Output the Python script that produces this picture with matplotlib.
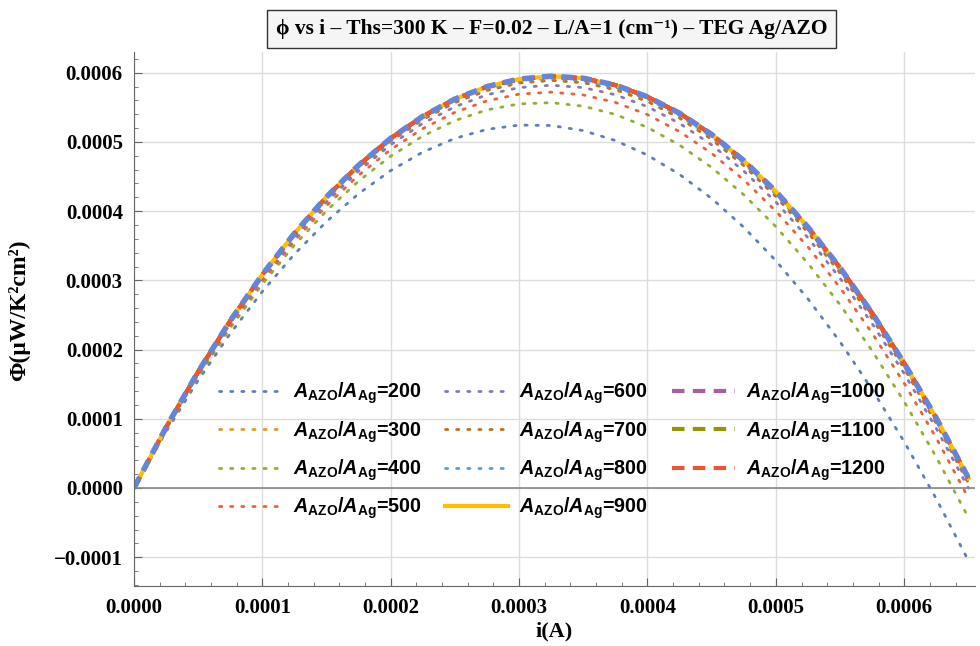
import numpy as np
import matplotlib
matplotlib.use('Agg')
import matplotlib.pyplot as plt

# corriente (A) y potencia phi (en unidades de 1e-4 uW/K^2 cm^2)
i_A = np.arange(0, 27) * 0.000025

phi_200 = [0, 0.812, 1.556, 2.232, 2.839, 3.379, 3.850, 4.253, 4.587, 4.854, 5.052, 5.182, 5.244,
           5.238, 5.164, 5.021, 4.810, 4.531, 4.184, 3.768, 3.285, 2.733, 2.113, 1.424, 0.668, -0.157, -1.050]
phi_400 = [0, 0.839, 1.609, 2.311, 2.945, 3.510, 4.007, 4.435, 4.795, 5.086, 5.309, 5.464, 5.550,
           5.568, 5.517, 5.398, 5.211, 4.955, 4.631, 4.238, 3.777, 3.247, 2.649, 1.983, 1.248, 0.445, -0.427]
phi_500 = [0, 0.851, 1.634, 2.348, 2.994, 3.571, 4.079, 4.519, 4.891, 5.193, 5.428, 5.594, 5.691,
           5.720, 5.680, 5.572, 5.395, 5.150, 4.836, 4.453, 4.002, 3.483, 2.895, 2.238, 1.513, 0.720, -0.143]
phi_600 = [0, 0.861, 1.653, 2.376, 3.031, 3.616, 4.133, 4.580, 4.959, 5.269, 5.510, 5.682, 5.786,
           5.820, 5.786, 5.682, 5.510, 5.269, 4.959, 4.580, 4.133, 3.616, 3.031, 2.376, 1.653, 0.861, 0.0]
phi_700 = [0, 0.869, 1.668, 2.398, 3.059, 3.651, 4.173, 4.626, 5.010, 5.325, 5.570, 5.746, 5.853,
           5.890, 5.858, 5.757, 5.587, 5.347, 5.038, 4.660, 4.212, 3.695, 3.109, 2.454, 1.729, 0.935, 0.072]
phi_300 = phi_700
phi_800 = [0, 0.872, 1.674, 2.407, 3.071, 3.665, 4.190, 4.645, 5.031, 5.348, 5.595, 5.773, 5.881,
           5.920, 5.889, 5.789, 5.620, 5.381, 5.073, 4.695, 4.248, 3.732, 3.146, 2.491, 1.766, 0.972, 0.108]
phi_top = [0, 0.875, 1.680, 2.416, 3.083, 3.679, 4.207, 4.664, 5.053, 5.371, 5.620, 5.800, 5.909,
           5.950, 5.921, 5.822, 5.653, 5.416, 5.108, 4.731, 4.285, 3.769, 3.183, 2.528, 1.803, 1.009, 0.145]

ratios = [200, 300, 400, 500, 600, 700, 800, 900, 1000, 1100, 1200]
series = [phi_200, phi_300, phi_400, phi_500, phi_600, phi_700, phi_800, phi_top,
          phi_top, phi_top, phi_top]
colores = ['#5E81B5', '#E19C24', '#8FB032', '#EB6235', '#8778B3', '#C56E1A',
           '#5D9EC7', '#FFBF00', '#A5609D', '#929600', '#E95536']

plt.rcParams['mathtext.fontset'] = 'custom'
plt.rcParams['mathtext.rm'] = 'Liberation Sans:bold'
plt.rcParams['mathtext.bf'] = 'Liberation Sans:bold'
plt.rcParams['mathtext.it'] = 'Liberation Sans:bold:italic'
serif = ['Liberation Serif', 'DejaVu Serif']

fig = plt.figure(figsize=(9.8, 6.46), dpi=100)
ax = fig.add_axes([0.1367, 0.0929, 0.858, 0.8266])

for r, y, c in zip(ratios, series, colores):
    y = np.array(y) * 1e-4
    lab = r'$A_{\mathbf{AZO}}/A_{\mathbf{Ag}}$=%d' % r
    if r < 900:
        ax.plot(i_A, y, color=c, lw=2, ls=(0, (0.8, 3.2)), dash_capstyle='round', label=lab)
    elif r == 900:
        ax.plot(i_A, y, color=c, lw=3, label=lab)
    else:
        ax.plot(i_A, y, color=c, lw=3, ls=(0, (3, 2)), label=lab)
ax.plot(i_A, np.array(phi_top) * 1e-4, color='#6685D9', lw=4, ls=(0, (2, 1.5)))

ax.axhline(0, color='#888888', lw=1.2, zorder=1)
ax.set_xlim(0, 0.000655)
ax.set_ylim(-0.0001416, 0.00063)
ax.set_xticks(np.arange(0, 0.00065, 0.0001))
ax.set_yticks(np.arange(-0.0001, 0.00065, 0.0001))
ax.set_xticks(np.arange(0, 0.00065, 0.00002), minor=True)
ax.set_yticks(np.arange(-0.00014, 0.00063, 0.00002), minor=True)
ax.set_xticklabels(['%.4f' % v for v in np.arange(0, 0.00065, 0.0001)])
ax.set_yticklabels([('%.4f' % v).replace('-', '\u2212') for v in np.arange(-0.0001, 0.00065, 0.0001)])
for lbl in ax.get_xticklabels() + ax.get_yticklabels():
    lbl.set_family(serif)
    lbl.set_weight('bold')
    lbl.set_fontsize(15)
ax.tick_params(which='major', direction='in', length=6, color='#666666')
ax.tick_params(axis='x', which='major', pad=9)
ax.tick_params(axis='y', which='major', pad=8)
ax.tick_params(which='minor', direction='in', length=3, color='#666666')
ax.grid(True, color='#dcdcdc', lw=1)
ax.set_axisbelow(True)
for s in ['top', 'right']:
    ax.spines[s].set_visible(False)
for s in ['left', 'bottom']:
    ax.spines[s].set_color('#666666')

ax.set_xlabel('i(A)', family=serif, weight='bold', fontsize=16)
ax.xaxis.set_label_coords(0.5, -0.066)
ax.set_ylabel('\u03a6(\u03bcW/K\u00b2cm\u00b2)', family=serif, weight='bold', fontsize=17)
ax.yaxis.set_label_coords(-0.124, 0.517)

ax.legend(ncol=3, loc='upper left', bbox_to_anchor=(219 / 980, 1 - 381 / 646),
          bbox_transform=fig.transFigure, frameon=False, handlelength=3.2, handletextpad=0.55,
          prop={'family': 'Liberation Sans', 'weight': 'bold', 'size': 14.2},
          columnspacing=1.2, labelspacing=0.64, borderpad=0, borderaxespad=0)

fig.text(0.563, 0.955, '\u03d5 vs i \u2013 Ths=300 K \u2013 F=0.02 \u2013 L/A=1 (cm\u207b\u00b9) \u2013 TEG Ag/AZO',
         family=serif, weight='bold', fontsize=15.5, ha='center', va='center',
         bbox=dict(boxstyle='square,pad=0.4', fc='#f5f5f5', ec='#333333', lw=1))

plt.savefig('out.png', dpi=100)
